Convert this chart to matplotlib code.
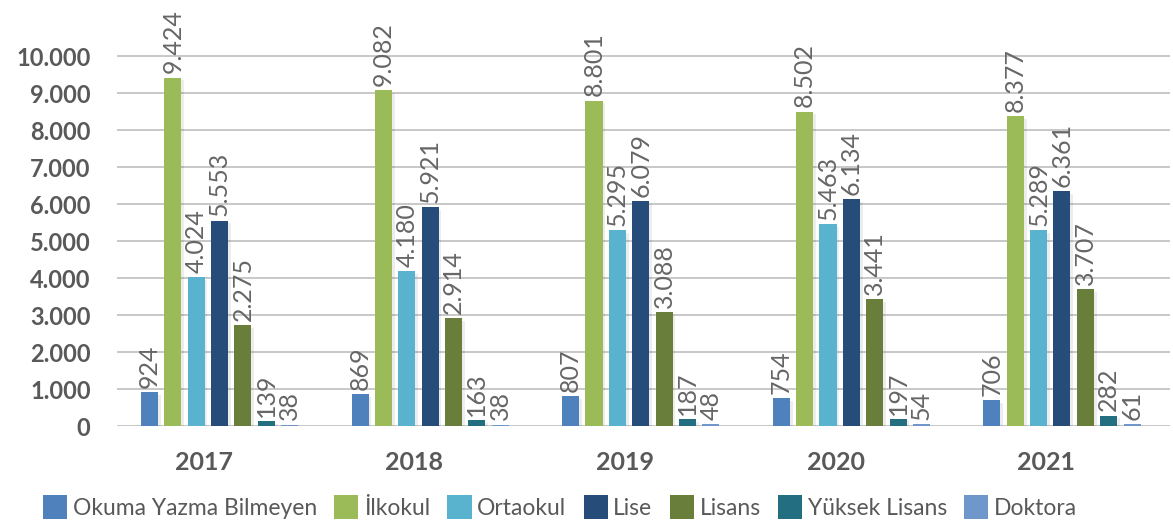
import numpy as np
import matplotlib
matplotlib.use("Agg")
import matplotlib.pyplot as plt
import matplotlib.patheffects as pe

# --- data ---
years = ["2017", "2018", "2019", "2020", "2021"]
series = ["Okuma Yazma Bilmeyen", "İlkokul", "Ortaokul", "Lise", "Lisans",
          "Yüksek Lisans", "Doktora"]
okuma_yazma = [924, 869, 807, 754, 706]
ilkokul = [9424, 9082, 8801, 8502, 8377]
ortaokul = [4024, 4180, 5295, 5463, 5289]
lise = [5553, 5921, 6079, 6134, 6361]
lisans = [2725, 2914, 3088, 3441, 3707]   # 2017 bar drawn at ~2.7k
yuksek_lisans = [139, 163, 187, 197, 282]
doktora = [38, 38, 48, 54, 61]
# printed label differs from the drawn bar for 2017 Lisans
label_override = {(4, 0): "2.275"}

yticks = list(range(0, 10001, 1000))

colors = ["#4F81BD", "#9BBB59", "#59B3CF", "#264D7A", "#687E3A",
          "#236E80", "#6F97CC"]

plt.rcParams['font.family'] = ['Lato', 'DejaVu Sans']

def fmt(v):
    return f"{v:,}".replace(",", ".")

values = [okuma_yazma, ilkokul, ortaokul, lise, lisans, yuksek_lisans, doktora]

fig = plt.figure(figsize=(11.73, 5.29), dpi=100)
ax = fig.add_axes([117 / 1173, (529 - 426) / 529, (1170 - 117) / 1173, 426 / 529])

x = np.arange(len(years))
step = 0.111
width = 0.081
shadow = [pe.SimplePatchShadow(offset=(2, -2), shadow_rgbFace="#000000", alpha=0.07),
          pe.Normal()]

for k, (name, vals) in enumerate(zip(series, values)):
    pos = x + (k - 3) * step
    bars = ax.bar(pos, vals, width=width, color=colors[k], label=name, zorder=3)
    for b in bars:
        b.set_path_effects(shadow)
    for j, (p, v) in enumerate(zip(pos, vals)):
        txt = label_override.get((k, j), fmt(v))
        ax.annotate(txt, (p, v), xytext=(0, 3), textcoords="offset points",
                    rotation=90, ha="center", va="bottom", fontsize=18,
                    color="#666666", fontweight="normal", clip_on=False,
                    zorder=4)

ax.set_xlim(-0.487, 4.513)
ax.set_ylim(0, 11520)
ax.set_yticks(yticks)
ax.set_yticklabels([fmt(t) for t in yticks], fontsize=17, color="#595959",
                   fontweight="bold")
ax.set_xticks(x - 0.075)
ax.set_xticklabels(years, fontsize=18, color="#595959", fontweight="bold")
ax.tick_params(axis="both", length=0)
ax.tick_params(axis="y", pad=19)
ax.tick_params(axis="x", pad=18)
ax.grid(axis="y", color="#BFBFBF", linewidth=1.2, zorder=0)
for s in ax.spines.values():
    s.set_visible(False)

handles, labels = ax.get_legend_handles_labels()
leg = fig.legend(handles, labels, loc="center", bbox_to_anchor=(560 / 1173, 1 - 507 / 529),
                 ncol=7, frameon=False, fontsize=16.5, handlelength=1.05,
                 handleheight=1.2, handletextpad=0.25, columnspacing=0.75,
                 labelcolor="#595959")
for h in leg.legend_handles:
    h.set_path_effects([])

fig.savefig("out.png", dpi=100)
